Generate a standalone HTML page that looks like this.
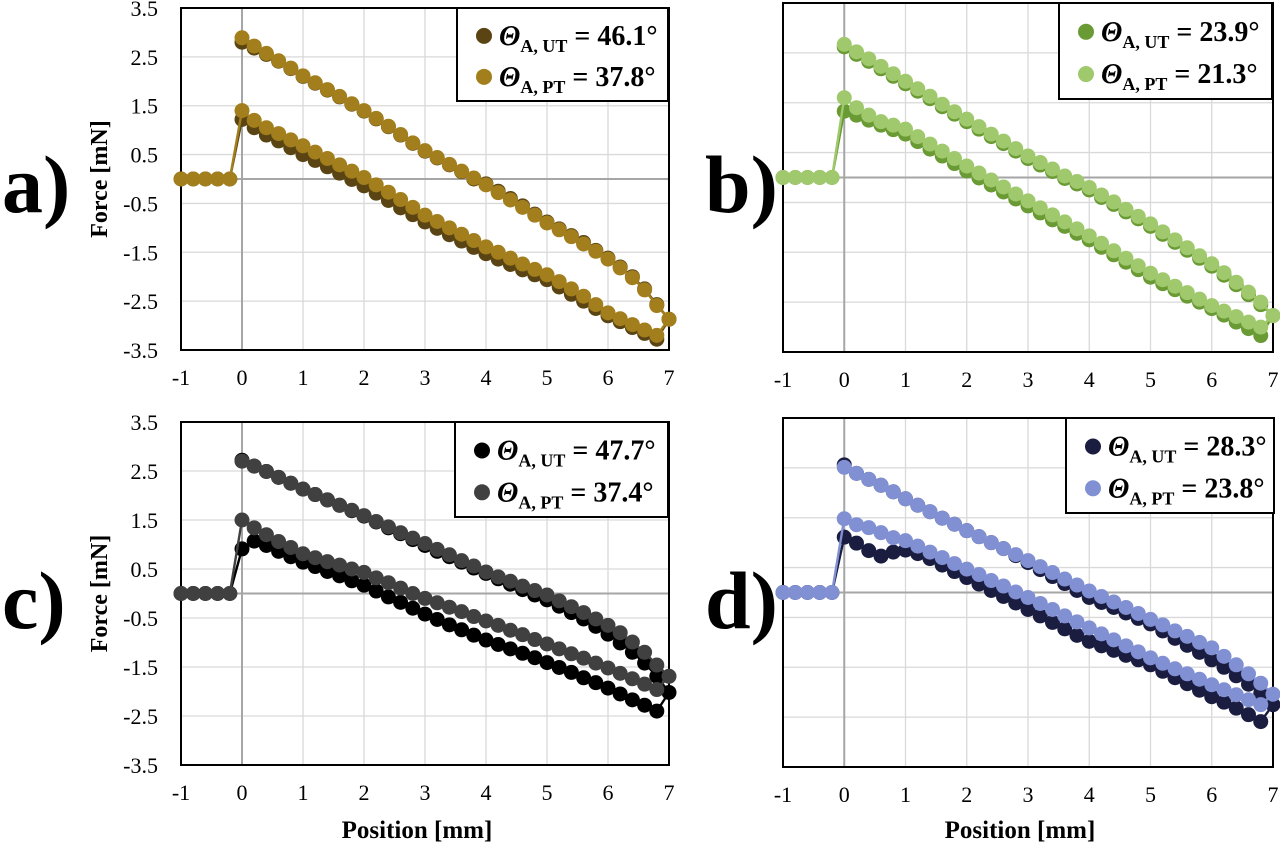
<!DOCTYPE html>
<html><head><meta charset="utf-8"><style>
body{margin:0;background:#fff;width:1280px;height:847px;overflow:hidden}
svg{display:block;font-family:"Liberation Serif",serif}
</style></head><body>
<svg id="fig" width="1280" height="847" viewBox="0 0 1280 847"></svg>
<script>
// x samples: approach points, forward branch 0..6.8, end point 7, return branch
const approachX = [-1, -0.8, -0.6, -0.4, -0.2];
const approachY = [0, 0, 0, 0, 0];
const branchX = [0,0.2,0.4,0.6,0.8,1,1.2,1.4,1.6,1.8,2,2.2,2.4,2.6,2.8,3,3.2,3.4,3.6,3.8,4,4.2,4.4,4.6,4.8,5,5.2,5.4,5.6,5.8,6,6.2,6.4,6.6,6.8];
const xTicks = [-1,0,1,2,3,4,5,6,7];
const yTicks = [3.5,2.5,1.5,0.5,-0.5,-1.5,-2.5,-3.5];

// Panel a
const aUTlow = [1.22,1.05,0.9,0.78,0.64,0.5,0.38,0.25,0.12,-0.01,-0.14,-0.29,-0.44,-0.59,-0.73,-0.88,-1.01,-1.14,-1.27,-1.4,-1.53,-1.64,-1.75,-1.86,-1.96,-2.06,-2.21,-2.36,-2.5,-2.65,-2.8,-2.92,-3.04,-3.16,-3.28];
const aUTend = -2.87;
const aUTup = [2.8,2.68,2.55,2.41,2.26,2.1,1.96,1.82,1.68,1.53,1.39,1.23,1.07,0.9,0.73,0.57,0.43,0.29,0.15,0.0,-0.1,-0.25,-0.4,-0.55,-0.72,-0.88,-1.02,-1.16,-1.3,-1.46,-1.62,-1.8,-2.0,-2.25,-2.57];
const aPTlow = [1.4,1.2,1.05,0.93,0.8,0.68,0.55,0.42,0.29,0.16,0.03,-0.12,-0.27,-0.42,-0.58,-0.74,-0.87,-1.0,-1.13,-1.26,-1.39,-1.5,-1.62,-1.74,-1.85,-1.96,-2.1,-2.25,-2.4,-2.57,-2.74,-2.86,-2.98,-3.09,-3.2];
const aPTend = -2.87;
const aPTup = [2.89,2.72,2.57,2.42,2.27,2.11,1.97,1.83,1.69,1.54,1.4,1.24,1.08,0.91,0.74,0.58,0.44,0.3,0.16,0.02,-0.12,-0.28,-0.43,-0.58,-0.74,-0.9,-1.04,-1.18,-1.33,-1.48,-1.64,-1.82,-2.02,-2.27,-2.59];

// Panel b
const bUTlow = [1.33,1.25,1.15,1.05,0.96,0.87,0.72,0.57,0.43,0.28,0.13,-0.01,-0.15,-0.29,-0.43,-0.57,-0.71,-0.85,-0.98,-1.12,-1.25,-1.4,-1.55,-1.7,-1.85,-2.0,-2.13,-2.25,-2.38,-2.5,-2.63,-2.76,-2.9,-3.03,-3.17];
const bUTend = -2.77;
const bUTup = [2.62,2.47,2.33,2.18,2.03,1.88,1.73,1.58,1.42,1.27,1.12,0.97,0.82,0.68,0.53,0.38,0.25,0.12,-0.02,-0.13,-0.25,-0.4,-0.54,-0.69,-0.83,-0.98,-1.14,-1.3,-1.46,-1.62,-1.78,-1.96,-2.15,-2.35,-2.55];
const bPTlow = [1.6,1.4,1.25,1.12,1.05,0.97,0.82,0.67,0.53,0.38,0.23,0.09,-0.05,-0.19,-0.33,-0.47,-0.61,-0.75,-0.89,-1.03,-1.17,-1.32,-1.47,-1.62,-1.77,-1.92,-2.05,-2.18,-2.31,-2.44,-2.57,-2.68,-2.79,-2.9,-3.0];
const bPTend = -2.77;
const bPTup = [2.67,2.52,2.38,2.23,2.08,1.93,1.78,1.63,1.47,1.32,1.17,1.02,0.87,0.73,0.58,0.43,0.3,0.17,0.03,-0.08,-0.2,-0.35,-0.49,-0.64,-0.78,-0.93,-1.09,-1.25,-1.41,-1.57,-1.73,-1.91,-2.1,-2.3,-2.5];

// Panel c
const cUTlow = [0.91,1.07,0.98,0.86,0.75,0.64,0.55,0.45,0.36,0.26,0.17,0.05,-0.07,-0.18,-0.3,-0.42,-0.53,-0.64,-0.74,-0.85,-0.95,-1.04,-1.13,-1.22,-1.31,-1.41,-1.51,-1.61,-1.72,-1.82,-1.93,-2.05,-2.17,-2.28,-2.4];
const cUTend = -2.02;
const cUTup = [2.72,2.6,2.49,2.37,2.25,2.13,2.02,1.91,1.8,1.69,1.58,1.46,1.34,1.22,1.1,0.98,0.86,0.75,0.64,0.52,0.41,0.3,0.19,0.08,-0.03,-0.13,-0.26,-0.39,-0.52,-0.67,-0.83,-1.01,-1.2,-1.42,-1.69];
const cPTlow = [1.5,1.34,1.2,1.06,0.94,0.81,0.73,0.65,0.58,0.5,0.43,0.32,0.22,0.11,0.0,-0.1,-0.19,-0.28,-0.37,-0.47,-0.56,-0.65,-0.75,-0.84,-0.94,-1.03,-1.13,-1.23,-1.32,-1.42,-1.52,-1.63,-1.74,-1.85,-1.96];
const cPTend = -1.69;
const cPTup = [2.7,2.6,2.49,2.37,2.25,2.13,2.02,1.91,1.8,1.7,1.59,1.47,1.36,1.24,1.13,1.02,0.9,0.79,0.67,0.56,0.44,0.34,0.25,0.15,0.06,-0.03,-0.15,-0.27,-0.39,-0.52,-0.65,-0.8,-0.99,-1.2,-1.46];

// Panel d
const dUTlow = [1.11,0.99,0.84,0.73,0.81,0.85,0.78,0.68,0.55,0.42,0.3,0.17,0.04,-0.08,-0.21,-0.34,-0.47,-0.6,-0.73,-0.86,-0.98,-1.07,-1.16,-1.26,-1.35,-1.45,-1.58,-1.71,-1.83,-1.96,-2.09,-2.2,-2.32,-2.45,-2.59];
const dUTend = -2.25;
const dUTup = [2.56,2.39,2.27,2.15,2.02,1.88,1.75,1.62,1.49,1.37,1.24,1.12,1.0,0.88,0.74,0.6,0.46,0.32,0.18,0.04,-0.1,-0.2,-0.3,-0.41,-0.52,-0.63,-0.77,-0.92,-1.06,-1.2,-1.35,-1.5,-1.67,-1.84,-2.02];
const dPTlow = [1.48,1.36,1.3,1.2,1.1,1.04,0.93,0.81,0.7,0.58,0.47,0.36,0.24,0.13,0.01,-0.1,-0.22,-0.34,-0.47,-0.59,-0.71,-0.83,-0.95,-1.07,-1.19,-1.31,-1.42,-1.53,-1.63,-1.74,-1.85,-1.95,-2.05,-2.15,-2.25];
const dPTend = -2.04;
const dPTup = [2.51,2.39,2.27,2.15,2.02,1.88,1.75,1.62,1.49,1.37,1.24,1.12,1.0,0.88,0.76,0.64,0.52,0.4,0.27,0.15,0.03,-0.08,-0.19,-0.3,-0.42,-0.54,-0.65,-0.77,-0.88,-1.0,-1.11,-1.28,-1.45,-1.63,-1.82];

const panels = [
 {id:'a',L:181,R:669,T:8,B:350,yLabels:true,legend:[457,8,211,93],tag:[2,212],
  series:[{low:aUTlow,end:aUTend,up:aUTup,c:'#5a4413',lab:'UT',val:'46.1°'},{low:aPTlow,end:aPTend,up:aPTup,c:'#a27e1d',lab:'PT',val:'37.8°'}]},
 {id:'b',L:783,R:1273,T:3,B:352,yLabels:false,legend:[1059,3,213,96],tag:[705,212],
  series:[{low:bUTlow,end:bUTend,up:bUTup,c:'#6a9a34',lab:'UT',val:'23.9°'},{low:bPTlow,end:bPTend,up:bPTup,c:'#9fc96c',lab:'PT',val:'21.3°'}]},
 {id:'c',L:181,R:669,T:422,B:765,yLabels:true,legend:[455,422,213,95],tag:[2,628],
  series:[{low:cUTlow,end:cUTend,up:cUTup,c:'#000000',lab:'UT',val:'47.7°'},{low:cPTlow,end:cPTend,up:cPTup,c:'#404040',lab:'PT',val:'37.4°'}]},
 {id:'d',L:783,R:1273,T:418,B:767,yLabels:false,legend:[1066,418,208,95],tag:[705,628],
  series:[{low:dUTlow,end:dUTend,up:dUTup,c:'#1a1d40',lab:'UT',val:'28.3°'},{low:dPTlow,end:dPTend,up:dPTup,c:'#8090d2',lab:'PT',val:'23.8°'}]}
];
const NS='http://www.w3.org/2000/svg';
const svg=document.getElementById('fig');
function mk(tag,attrs,parent){const e=document.createElementNS(NS,tag);for(const k in attrs)e.setAttribute(k,attrs[k]);(parent||svg).appendChild(e);return e;}

panels.forEach(p=>{
  const g=mk('g',{});
  
  
  const sx=v=>p.L+(v+1)/8*(p.R-p.L);
  const sy=v=>p.T+(3.5-v)/7*(p.B-p.T);
  xTicks.forEach(t=>{
    if(t===-1||t===7||t===0)return;
    const l=mk('line',{x1:sx(t),x2:sx(t),y1:p.T,y2:p.B,stroke:'#d9d9d9','stroke-width':1.3},g);
    
    
  });
  yTicks.forEach(t=>{
    if(Math.abs(t)===3.5)return;
    const l=mk('line',{x1:p.L,x2:p.R,y1:sy(t),y2:sy(t),stroke:'#d9d9d9','stroke-width':1.3},g);
    
    
  });
  const z1=mk('line',{x1:sx(0),x2:sx(0),y1:p.T,y2:p.B,stroke:'#a6a6a6','stroke-width':2},g);
  
  
  const z2=mk('line',{x1:p.L,x2:p.R,y1:sy(0),y2:sy(0),stroke:'#a6a6a6','stroke-width':2},g);
  
  
  const box=mk('rect',{x:p.L,y:p.T,width:p.R-p.L,height:p.B-p.T,fill:'none',stroke:'#000','stroke-width':2},g);
  
  
  xTicks.forEach(t=>{
    const tx=mk('text',{x:sx(t),y:p.B+35,'font-size':22,'text-anchor':'middle'},g);
    tx.textContent=String(t);
    
    
  });
  if(p.yLabels){
    yTicks.forEach(t=>{
      const tx=mk('text',{x:p.L-23,y:sy(t)+8,'font-size':22,'text-anchor':'end'},g);
      tx.textContent=t.toFixed(1);
      
      
    });
    const yt=mk('text',{transform:`translate(${p.L-74},${(p.T+p.B)/2}) rotate(-90)`,'font-size':24,'font-weight':'bold','text-anchor':'middle'},g);
    yt.textContent='Force [mN]';
    
    
  }
  if(p.id==='c'||p.id==='d'){
    const xt=mk('text',{x:(p.L+p.R)/2-8,y:838,'font-size':25,'font-weight':'bold','text-anchor':'middle'},g);
    xt.textContent='Position [mm]';
    
    
  }
  const tag=mk('text',{x:p.tag[0],y:p.tag[1],'font-size':82,'font-weight':'bold'},g);
  tag.textContent=p.id+')';
  
  
  p.series.forEach(s=>{
    const xs=[],ys=[];
    approachX.forEach((x,i)=>{xs.push(x);ys.push(approachY[i]);});
    branchX.forEach((x,i)=>{xs.push(x);ys.push(s.low[i]);});
    xs.push(7);ys.push(s.end);
    for(let i=branchX.length-1;i>=0;i--){xs.push(branchX[i]);ys.push(s.up[i]);}
    const sg=mk('g',{},g);
    
    
    const pl=mk('polyline',{points:xs.map((x,i)=>sx(x)+','+sy(ys[i])).join(' '),fill:'none',stroke:s.c,'stroke-width':2.4},sg);
    
    
    xs.forEach((x,i)=>{
      const c=mk('circle',{cx:sx(x),cy:sy(ys[i]),r:7.5,fill:s.c},sg);
      
      
    });
  });
  const [lx,ly,lw,lh]=p.legend;
  const lg=mk('g',{},g);
  
  
  mk('rect',{x:lx,y:ly,width:lw,height:lh,fill:'#fff',stroke:'#000','stroke-width':2},lg);
  p.series.forEach((s,i)=>{
    const cy=ly+lh*(i===0?0.3:0.74);
    const e=mk('g',{},lg);
    
    
    mk('circle',{cx:lx+27,cy:cy,r:8,fill:s.c},e);
    const t=mk('text',{x:lx+42,y:cy+9,'font-size':28,'font-weight':'bold'},e);
    t.innerHTML=`<tspan font-style="italic">Θ</tspan><tspan font-size="18" dy="7">A, ${s.lab}</tspan><tspan dy="-7"> = ${s.val}</tspan>`;
  });
});
</script>
</body></html>
